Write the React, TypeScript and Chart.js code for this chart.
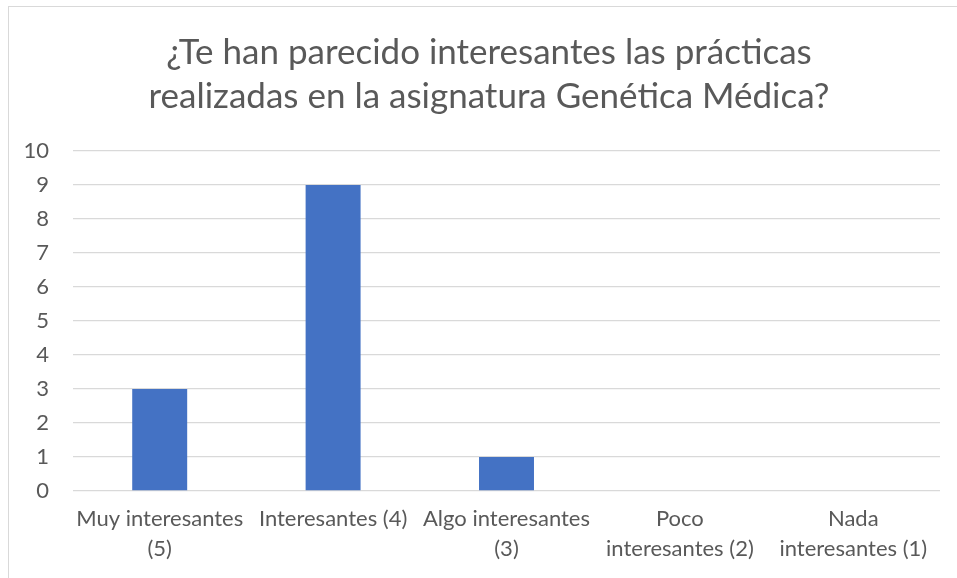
import React, { useEffect, useRef } from "react";
import { Chart, registerables } from "chart.js";

Chart.register(...registerables);

const titleLines = [
  "¿Te han parecido interesantes las prácticas",
  "realizadas en la asignatura Genética Médica?",
];
const categories: string[][] = [
  ["Muy interesantes", "(5)"],
  ["Interesantes (4)"],
  ["Algo interesantes", "(3)"],
  ["Poco", "interesantes (2)"],
  ["Nada", "interesantes (1)"],
];
const counts = [3, 9, 1, 0, 0];
const yMin = 0;
const yMax = 10;
const yStep = 1;

const FONT = "Lato, 'Open Sans', sans-serif";
const TEXT = "#595959";
const GRID = "#d9d9d9";

const titleShift = {
  id: "titleShift",
  afterLayout(chart: any) {
    const t = chart.titleBlock;
    if (t) t.left = 38;
  },
};

export default function App() {
  const ref = useRef<HTMLCanvasElement | null>(null);
  useEffect(() => {
    if (!ref.current) return;
    const chart = new Chart(ref.current, {
      type: "bar",
      data: {
        labels: categories,
        datasets: [
          {
            data: counts,
            backgroundColor: "#4472C4",
            barPercentage: 0.317,
            categoryPercentage: 1,
          },
        ],
      },
      plugins: [titleShift],
      options: {
        animation: false,
        responsive: false,
        devicePixelRatio: 1,
        layout: { padding: { left: 0, right: 17, top: 0, bottom: 1 } },
        plugins: {
          legend: { display: false },
          tooltip: { enabled: false },
          title: {
            display: true,
            text: titleLines,
            color: TEXT,
            font: { family: FONT, size: 35, weight: "normal", lineHeight: 44 / 35 },
            padding: { top: 31, bottom: 32 },
          },
        },
        scales: {
          x: {
            grid: { display: false, drawTicks: false },
            border: { display: false },
            ticks: {
              color: TEXT,
              font: { family: FONT, size: 22, lineHeight: 30 / 22 },
              padding: 13,
              maxRotation: 0,
              autoSkip: false,
            },
          },
          y: {
            min: yMin,
            max: yMax,
            afterFit: (s: any) => {
              s.width = 73;
            },
            grid: { color: GRID, lineWidth: 1.3, drawTicks: false },
            border: { display: false },
            ticks: {
              stepSize: yStep,
              color: TEXT,
              font: { family: FONT, size: 22 },
              padding: 24,
            },
          },
        },
      },
    });
    return () => chart.destroy();
  }, []);
  return (
    <div
      style={{
        position: "fixed",
        left: 0,
        top: 0,
        width: 957,
        height: 578,
        overflow: "hidden",
        background: "#fff",
      }}
    >
      <div
        style={{
          position: "absolute",
          left: 8,
          top: 6,
          width: 1000,
          height: 1000,
          border: "1.5px solid #d9d9d9",
        }}
      />
      <canvas
        ref={ref}
        width={957}
        height={578}
        style={{ position: "absolute", left: 0, top: 0, width: 957, height: 578 }}
      />
    </div>
  );
}
